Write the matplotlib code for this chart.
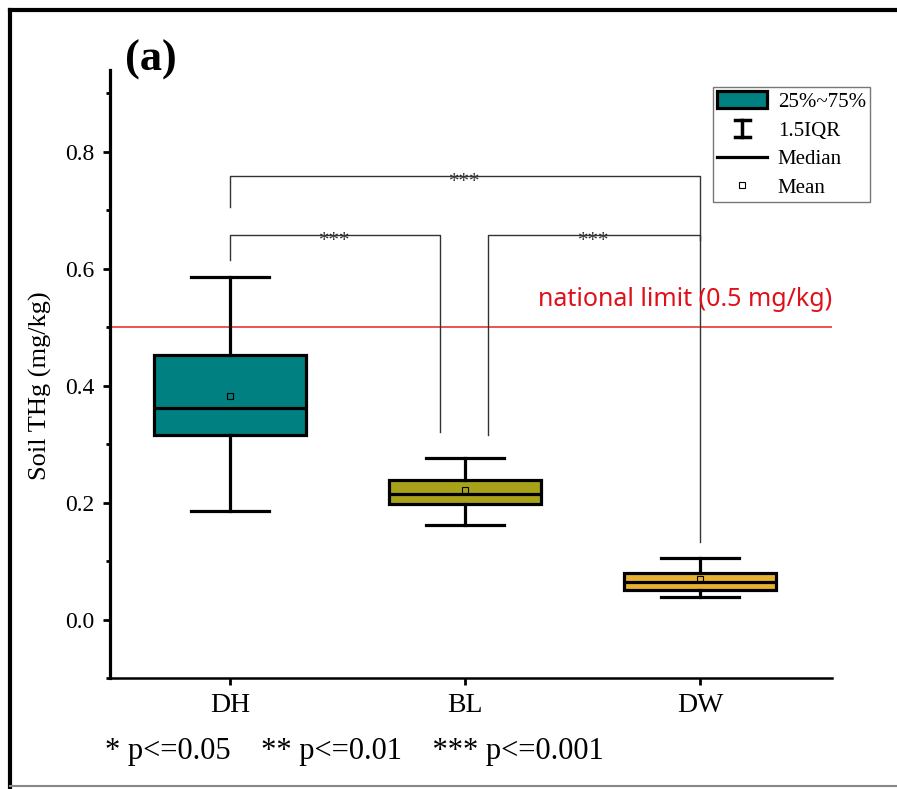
import matplotlib
matplotlib.use("Agg")
import matplotlib.pyplot as plt
from matplotlib.patches import Patch
from matplotlib.lines import Line2D
from matplotlib.legend_handler import HandlerBase

# ---- data ----
groups = ['DH', 'BL', 'DW']
q1 = [0.315, 0.198, 0.051]
med = [0.362, 0.215, 0.064]
q3 = [0.453, 0.239, 0.080]
whislo = [0.186, 0.162, 0.038]
whishi = [0.586, 0.277, 0.105]
means = [0.383, 0.222, 0.070]
colors = ['#008080', '#A8A21A', '#E8B030']
limit_value = 0.5
limit_label = 'national limit (0.5 mg/kg)'
sig_labels = ['***', '***', '***']
yticks = [0.0, 0.2, 0.4, 0.6, 0.8]

plt.rcParams['font.family'] = ['Liberation Serif', 'DejaVu Serif']

fig = plt.figure(figsize=(8.97, 7.89), dpi=100)
ax = fig.add_axes([110/897, 1-678/789, (832-110)/897, (678-70)/789])

positions = [1, 2, 3]
stats = []
for i, g in enumerate(groups):
    stats.append(dict(label=g, q1=q1[i], med=med[i], q3=q3[i],
                      whislo=whislo[i], whishi=whishi[i], mean=means[i], fliers=[]))

bp = ax.bxp(stats, positions=positions, widths=0.65, patch_artist=True,
            showmeans=True, showfliers=False, capwidths=0.33,
            boxprops=dict(linewidth=2.3, edgecolor='black'),
            whiskerprops=dict(linewidth=2.3, color='black'),
            capprops=dict(linewidth=2.3, color='black'),
            medianprops=dict(linewidth=2.3, color='black'),
            meanprops=dict(marker='s', markersize=5, markerfacecolor='none',
                           markeredgecolor='black', markeredgewidth=0.8))
for patch, c in zip(bp['boxes'], colors):
    patch.set_facecolor(c)

# national limit
ax.axhline(limit_value, color='#E8474B', lw=1.3, zorder=1)
ax.text(3.562, 0.547, limit_label, color='#E0101A', fontsize=18,
        family=['Noto Sans', 'DejaVu Sans'], ha='right', va='center')

# significance brackets
brackets = [
    (1, 3, 0.759, 0.706, 0.133, 2.0),
    (1, 1.894, 0.658, 0.615, 0.320, 1.447),
    (2.098, 3, 0.658, 0.316, 0.650, 2.549),
]
for (xa, xb, yt, ya, yb, xs), lab in zip(brackets, sig_labels):
    ax.plot([xa, xa, xb, xb], [ya, yt, yt, yb], color='#333333', lw=1.0, zorder=2)
    ax.text(xs, yt - 0.012, lab, color='#333333', fontsize=15,
            ha='center', va='center', zorder=3)

ax.set_xlim(0.489, 3.562)
ax.set_ylim(-0.1, 0.94)
ax.set_xticks(positions)
ax.set_xticklabels(groups)
ax.set_yticks(yticks)
ax.set_yticklabels([f'{v:.1f}' for v in yticks])
ax.set_yticks([-0.1, 0.1, 0.3, 0.5, 0.7, 0.9], minor=True)
ax.tick_params(axis='both', which='major', direction='out', length=5, width=2,
               labelsize=17, pad=6)
ax.tick_params(axis='y', which='minor', direction='out', length=3, width=2)
ax.tick_params(axis='x', which='major', pad=6, labelsize=20)
for s in ['top', 'right']:
    ax.spines[s].set_visible(False)
ax.spines['left'].set_linewidth(2.3)
ax.spines['bottom'].set_linewidth(1.8)
ax.set_ylabel('Soil THg (mg/kg)', fontsize=19)
ax.yaxis.set_label_coords(-0.080, 0.48)


# legend
class WhiskerHandler(HandlerBase):
    def create_artists(self, legend, orig_handle, xdescent, ydescent,
                       width, height, fontsize, trans):
        cx = width / 2 - xdescent
        y0 = -ydescent
        y1 = height - ydescent
        hw = width * 0.15
        l1 = Line2D([cx, cx], [y0, y1], color='black', lw=2.5, transform=trans)
        l2 = Line2D([cx - hw, cx + hw], [y0, y0], color='black', lw=2.5, transform=trans)
        l3 = Line2D([cx - hw, cx + hw], [y1, y1], color='black', lw=2.5, transform=trans)
        return [l1, l2, l3]


class WhiskerKey:
    pass


handles = [Patch(facecolor=colors[0], edgecolor='black', linewidth=2.3),
           WhiskerKey(),
           Line2D([], [], color='black', lw=2.3),
           Line2D([], [], marker='s', markersize=5, markerfacecolor='none',
                  markeredgecolor='black', markeredgewidth=0.8, linestyle='none')]
labels = ['25%~75%', '1.5IQR', 'Median', 'Mean']
leg = fig.legend(handles, labels, loc='upper right',
                 bbox_to_anchor=(870/897, 1-87/789), fontsize=15,
                 handler_map={WhiskerKey: WhiskerHandler()},
                 fancybox=False, frameon=True, edgecolor='#555555',
                 handlelength=2.4, handleheight=0.9, labelspacing=0.38,
                 borderpad=0.2, handletextpad=0.5, borderaxespad=0)
leg.get_frame().set_linewidth(1.0)

# panel label and significance note
fig.text(125/897, 1-60/789, '(a)', fontsize=32, fontweight='bold',
         ha='left', va='center')
fig.text(105/897, 1-751/789, '* p<=0.05    ** p<=0.01    *** p<=0.001',
         fontsize=22, ha='left', va='center')

# outer frame
fig.add_artist(Line2D([10/897, 1], [1-10/789, 1-10/789], color='black', lw=3,
                      transform=fig.transFigure))
fig.add_artist(Line2D([10/897, 10/897], [1-10/789, 0], color='black', lw=3,
                      transform=fig.transFigure))
fig.add_artist(Line2D([10/897, 1], [1-786/789, 1-786/789], color='#888888', lw=1.5,
                      transform=fig.transFigure))

fig.savefig('out.png', dpi=100)
